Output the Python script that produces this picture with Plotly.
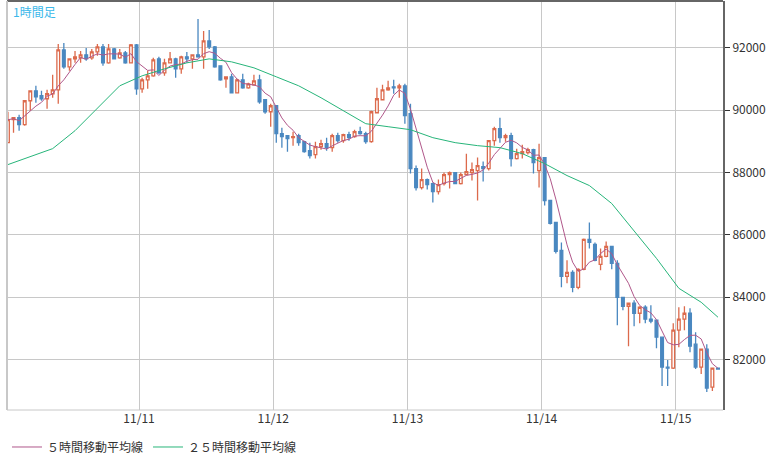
import plotly.graph_objects as go
import pandas as pd

# hourly candles
opens = [88956, 89692, 89756, 89532, 90300, 90620, 90460, 90364, 90524, 90652, 91932, 91388, 91644, 91676, 91772, 91676,
         91868, 92028, 91516, 91964, 91676, 91836, 91516, 92092, 90684, 90972, 91100, 91644, 91196, 91516, 91644, 91324,
         91708, 91644, 91772, 91708, 92220, 92028, 91420, 91004, 91068, 90556, 90972, 90716, 90812, 90972, 90332, 89948,
         90140, 89244, 89180, 89116, 89180, 88988, 88700, 88572, 88828, 88924, 88796, 89180, 89020, 89212, 89148, 89308,
         89244, 88988, 89916, 90332, 90652, 90748, 90716, 90780, 89884, 88124, 87516, 87772, 87644, 87388, 87644, 87932,
         87996, 87644, 87932, 87996, 88060, 88188, 88124, 89020, 89404, 89116, 89180, 88444, 88604, 88636, 88732, 88060,
         88476, 87100, 86396, 85500, 84668, 84796, 84316, 84892, 85852, 85692, 85052, 85308, 85628, 85084, 83996, 83708,
         83804, 83484, 83676, 83292, 83260, 82716, 81756, 81724, 82940, 83292, 83484, 82492, 81756, 82332, 81116, 81724]
highs = [89948, 89756, 89852, 90300, 90620, 90780, 90620, 90652, 91132, 92124, 92156, 91644, 91900, 91900, 91996, 91964,
         92124, 92124, 92124, 91996, 91964, 91900, 92124, 92124, 91036, 91260, 91676, 91708, 91644, 91868, 91676, 91740,
         91868, 91772, 92924, 92540, 92572, 92060, 91420, 91068, 91164, 91004, 91164, 90876, 91132, 91132, 90332, 90204,
         90140, 89436, 89180, 89308, 89244, 89020, 88956, 88988, 89052, 89116, 89244, 89276, 89244, 89308, 89372, 89468,
         89308, 89980, 90716, 90812, 90940, 90972, 90844, 90844, 90204, 88220, 88124, 87804, 87676, 87772, 87996, 88028,
         87996, 87996, 88604, 88316, 88476, 88348, 89020, 89468, 89756, 89244, 89276, 88764, 88892, 88796, 88764, 88924,
         88476, 87100, 86396, 85756, 85180, 84860, 84924, 85884, 86396, 85756, 85564, 85788, 85628, 85180, 83996, 83804,
         83900, 83708, 83740, 83740, 83260, 82716, 81980, 83164, 83676, 83708, 83644, 82876, 82332, 82492, 81724, 81724]
lows = [88956, 89276, 89340, 89500, 89980, 90236, 90300, 90044, 90396, 90204, 91324, 91260, 91516, 91516, 91580, 91612,
        91740, 91420, 91484, 91644, 91644, 91484, 91516, 90492, 90556, 90684, 91068, 91164, 91100, 91516, 91036, 91164,
        91516, 91324, 91676, 91324, 91964, 91356, 90940, 90716, 90556, 90556, 90684, 90684, 90780, 90204, 89884, 89468,
        88956, 88796, 88668, 88860, 88860, 88636, 88444, 88444, 88732, 88700, 88668, 88956, 88956, 89020, 89116, 89212,
        88924, 88956, 89916, 90332, 90620, 90524, 90396, 89564, 87964, 87420, 87452, 87452, 87036, 87292, 87580, 87484,
        87644, 87612, 87900, 87740, 87100, 87708, 88060, 88860, 88956, 88988, 88188, 88412, 88444, 88572, 87964, 87516,
        86940, 86332, 85404, 84316, 84444, 84156, 84252, 84860, 85564, 85148, 84860, 85276, 84892, 83100, 83580, 82428,
        83068, 83164, 83164, 83164, 82364, 81148, 81148, 81692, 82396, 82940, 82236, 81692, 81532, 80956, 80988, 81692]
closes = [89692, 89756, 89532, 90300, 90620, 90428, 90364, 90524, 90652, 91932, 91388, 91644, 91708, 91772, 91644, 91868,
          92028, 91516, 91964, 91644, 91836, 91516, 92092, 90684, 90972, 91100, 91612, 91196, 91516, 91644, 91324, 91708,
          91644, 91772, 91708, 92220, 92028, 91388, 90972, 91068, 90556, 90972, 90716, 90844, 90940, 90268, 89948, 90140,
          89244, 89148, 89084, 89148, 88956, 88668, 88540, 88828, 88924, 88796, 89180, 89020, 89212, 89116, 89308, 89244,
          88988, 89948, 90364, 90652, 90716, 90716, 90780, 89820, 88124, 87516, 87772, 87612, 87388, 87612, 87932, 87996,
          87644, 87932, 88028, 88092, 88220, 88124, 89020, 89404, 89116, 89180, 88444, 88604, 88668, 88732, 88316, 88476,
          87100, 86364, 85468, 84668, 84796, 84316, 84892, 85852, 85756, 85180, 85308, 85628, 85084, 83996, 83708, 83804,
          83484, 83676, 83292, 83228, 82716, 81756, 81724, 82940, 83292, 83484, 82428, 81756, 82332, 81084, 81724, 81692]

# 25-hour MA every 4 candles
ma25_idx = [0, 4, 8, 12, 16, 20, 24, 28, 32, 36, 40, 44, 48, 52, 56, 60, 64, 68, 72, 76, 80, 84, 88, 92,
            96, 100, 104, 108, 112, 116, 120, 124, 127]
ma25_vals = [88252, 88508, 88764, 89340, 90076, 90780, 91100, 91324, 91516, 91644, 91548, 91356, 91068, 90780,
             90396, 89980, 89564, 89468, 89372, 89116, 88956, 88860, 88796, 88604, 88284, 87900, 87580, 87004,
             86140, 85244, 84284, 83836, 83356]

day_ticks = ["2021-11-11", "2021-11-12", "2021-11-13", "2021-11-14", "2021-11-15"]
day_labels = ["11/11", "11/12", "11/13", "11/14", "11/15"]
price_ticks = [82000, 84000, 86000, 88000, 90000, 92000]

times = pd.date_range("2021-11-10 00:33", periods=len(closes), freq="h")
ma5 = pd.Series(closes).rolling(5, min_periods=1).mean()

fig = go.Figure()
fig.add_trace(go.Candlestick(
    x=times, open=opens, high=highs, low=lows, close=closes, showlegend=False,
    increasing=dict(line=dict(color="#dc6a4c", width=1.3), fillcolor="white"),
    decreasing=dict(line=dict(color="#4a88c0", width=1.3), fillcolor="#4a88c0"),
    whiskerwidth=0, hoverinfo="skip"))
fig.add_trace(go.Scatter(x=times, y=ma5, mode="lines", name="５時間移動平均線",
                         line=dict(color="#b0578a", width=1)))
fig.add_trace(go.Scatter(x=times[ma25_idx], y=ma25_vals, mode="lines", name="２５時間移動平均線",
                         line=dict(color="#27b57a", width=1)))

fig.add_annotation(text="1時間足", xref="paper", yref="paper", x=0.005, y=1.0,
                   xanchor="left", yanchor="top", showarrow=False,
                   font=dict(color="#3bb8ea", size=12))

fig.update_layout(
    width=784, height=462, margin=dict(l=7, r=61, t=1, b=52, autoexpand=False),
    plot_bgcolor="white", paper_bgcolor="white",
    font=dict(family="Noto Sans CJK JP", size=12, color="#333"),
    xaxis=dict(rangeslider=dict(visible=False), tickvals=day_ticks, ticktext=day_labels,
               range=["2021-11-10 00:23", "2021-11-15 08:27"], showgrid=True, gridcolor="#c8c8c8",
               zeroline=False, ticks="", tickfont=dict(size=12), automargin=False),
    yaxis=dict(side="right", range=[80380, 93500], tickvals=price_ticks,
               ticktext=[str(v) for v in price_ticks],
               showgrid=True, gridcolor="#c8c8c8", zeroline=False, ticks="outside", ticklen=5,
               tickcolor="#333", showline=True, linecolor="#666", linewidth=2, mirror=False,
               tickfont=dict(size=12), automargin=False),
    legend=dict(orientation="h", x=0.0, y=-0.055, xanchor="left", yanchor="top",
                font=dict(size=12), itemwidth=30),
    hovermode=False,
)
fig.add_shape(type="line", xref="paper", yref="paper", x0=0, x1=1, y0=1, y1=1,
              line=dict(color="#666", width=2))
fig.add_shape(type="line", xref="paper", yref="paper", x0=0, x1=1, y0=0, y1=0,
              line=dict(color="#c8c8c8", width=1))
fig.add_shape(type="line", xref="paper", yref="paper", x0=0, x1=0, y0=0, y1=1,
              line=dict(color="#c8c8c8", width=2))

fig.write_html("out.html", config={"displayModeBar": False},
               post_script="document.body.style.margin='0';")
